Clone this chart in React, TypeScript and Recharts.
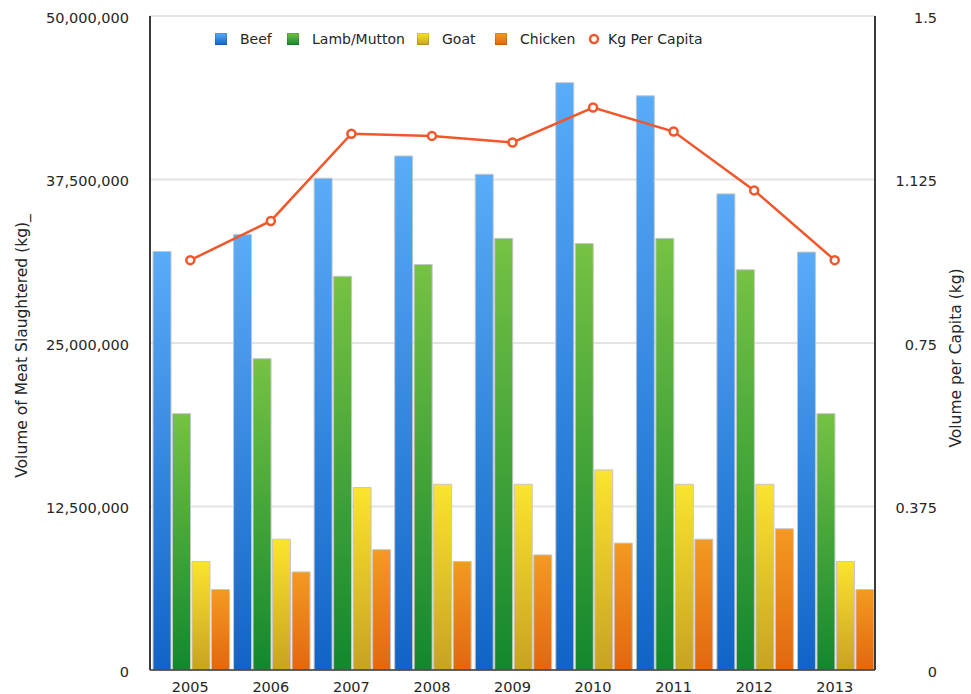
import React from 'react';
import { ComposedChart, Bar, Line, XAxis, YAxis, CartesianGrid, Legend } from 'recharts';

// Slaughter volumes (kg) by year and meat type, plus per-capita consumption (kg)
const years = ['2005', '2006', '2007', '2008', '2009', '2010', '2011', '2012', '2013'];
const beefKg = [32000000, 33300000, 37600000, 39300000, 37900000, 44900000, 43900000, 36400000, 31950000];
const lambMuttonKg = [19600000, 23800000, 30100000, 31000000, 33000000, 32600000, 33000000, 30600000, 19600000];
const goatKg = [8300000, 10000000, 13950000, 14200000, 14200000, 15300000, 14200000, 14200000, 8300000];
const chickenKg = [6150000, 7500000, 9200000, 8300000, 8800000, 9700000, 10000000, 10800000, 6150000];
const kgPerCapita = [0.94, 1.03, 1.23, 1.225, 1.21, 1.29, 1.235, 1.1, 0.94];

const volumeTicks = [0, 12500000, 25000000, 37500000, 50000000];
const perCapitaTicks = [0, 0.375, 0.75, 1.125, 1.5];

const data = years.map((year, i) => ({
  year,
  beef: beefKg[i],
  lamb: lambMuttonKg[i],
  goat: goatKg[i],
  chicken: chickenKg[i],
  perCapita: kgPerCapita[i],
}));

const FONT = '"DejaVu Sans", "Lucida Grande", sans-serif';
const TEXT = '#262626';
const AXIS = '#3a3a3a';
const LINE = '#f1572a';

const barSeries = [
  { key: 'beef', name: 'Beef', id: 'grad-beef', top: '#59acf8', bottom: '#1164c6' },
  { key: 'lamb', name: 'Lamb/Mutton', id: 'grad-lamb', top: '#76c244', bottom: '#13872e' },
  { key: 'goat', name: 'Goat', id: 'grad-goat', top: '#fbe42e', bottom: '#c8a222' },
  { key: 'chicken', name: 'Chicken', id: 'grad-chicken', top: '#f39a22', bottom: '#e2670f' },
];

const legendLefts = [215, 287, 417, 495];

function LegendContent() {
  return (
    <div style={{ position: 'relative', width: 971, height: 20, fontFamily: FONT, fontSize: 14, color: TEXT }}>
      {barSeries.map((s, i) => (
        <div
          key={s.key}
          style={{ position: 'absolute', left: legendLefts[i], top: 0, height: 20, display: 'flex', alignItems: 'center', whiteSpace: 'nowrap' }}
        >
          <span
            style={{
              display: 'inline-block',
              width: 12,
              height: 12,
              background: `linear-gradient(${s.top}, ${s.bottom})`,
              boxShadow: 'inset 0 0 0 1px rgba(0,0,0,0.12)',
            }}
          />
          <span style={{ marginLeft: 13 }}>{s.name}</span>
        </div>
      ))}
      <div style={{ position: 'absolute', left: 588, top: 0, height: 20, display: 'flex', alignItems: 'center', whiteSpace: 'nowrap' }}>
        <svg width={12} height={12}>
          <circle cx={6} cy={6} r={4} fill="#fff" stroke={LINE} strokeWidth={2.5} />
        </svg>
        <span style={{ marginLeft: 8 }}>Kg Per Capita</span>
      </div>
    </div>
  );
}

const formatVolume = (v: number) => v.toLocaleString('en-US');

function VolumeTick(props: any) {
  const { y, payload } = props;
  return (
    <text x={129} y={y} dy={6.5} textAnchor="end" fontFamily={FONT} fontSize={14.5} fill={TEXT}>
      {formatVolume(payload.value)}
    </text>
  );
}

function PerCapitaTick(props: any) {
  const { y, payload } = props;
  return (
    <text x={937} y={y} dy={6.5} textAnchor="end" fontFamily={FONT} fontSize={14.5} fill={TEXT}>
      {String(payload.value)}
    </text>
  );
}

function YearTick(props: any) {
  const { x, payload } = props;
  return (
    <text x={x} y={692} textAnchor="middle" fontFamily={FONT} fontSize={14.5} fill={TEXT}>
      {payload.value}
    </text>
  );
}

const leftTitle = () => (
  <text
    x={22}
    y={346}
    transform="rotate(-90 22 346)"
    textAnchor="middle"
    dominantBaseline="central"
    fontFamily={FONT}
    fontSize={15.5}
    fill={TEXT}
  >
    Volume of Meat Slaughtered (kg)_
  </text>
);

const rightTitle = () => (
  <text
    x={956}
    y={358}
    transform="rotate(-90 956 358)"
    textAnchor="middle"
    dominantBaseline="central"
    fontFamily={FONT}
    fontSize={15.5}
    fill={TEXT}
  >
    Volume per Capita (kg)
  </text>
);

export default function App() {
  return (
    <div style={{ position: 'absolute', left: 0, top: 0, width: 971, height: 694, background: '#fff' }}>
      <ComposedChart
        width={971}
        height={694}
        data={data}
        margin={{ top: 16, right: 0, bottom: 0, left: 0 }}
        barCategoryGap={3}
        barGap={1.5}
      >
        <defs>
          {barSeries.map((s) => (
            <linearGradient key={s.id} id={s.id} x1="0" y1="0" x2="0" y2="1">
              <stop offset="0%" stopColor={s.top} />
              <stop offset="100%" stopColor={s.bottom} />
            </linearGradient>
          ))}
        </defs>
        <CartesianGrid yAxisId="left" vertical={false} stroke="#e4e4e4" strokeWidth={2} />
        <XAxis
          dataKey="year"
          height={24}
          tickLine={false}
          axisLine={{ stroke: AXIS, strokeWidth: 1.5 }}
          tick={<YearTick />}
          interval={0}
        />
        <YAxis
          yAxisId="left"
          orientation="left"
          width={150}
          domain={[0, 50000000]}
          ticks={volumeTicks}
          tickLine={false}
          axisLine={{ stroke: AXIS, strokeWidth: 2 }}
          tick={<VolumeTick />}
          label={leftTitle}
        />
        <YAxis
          yAxisId="right"
          orientation="right"
          width={96}
          domain={[0, 1.5]}
          ticks={perCapitaTicks}
          tickLine={false}
          axisLine={{ stroke: AXIS, strokeWidth: 2 }}
          tick={<PerCapitaTick />}
          label={rightTitle}
        />
        <Legend
          verticalAlign="middle"
          align="center"
          layout="horizontal"
          wrapperStyle={{ top: 29, left: 0, width: 971, height: 20 }}
          content={<LegendContent />}
        />
        {barSeries.map((s) => (
          <Bar
            key={s.key}
            yAxisId="left"
            dataKey={s.key}
            name={s.name}
            fill={`url(#${s.id})`}
            stroke="#c6c6c6"
            strokeWidth={1}
            isAnimationActive={false}
          />
        ))}
        <Line
          yAxisId="right"
          type="linear"
          dataKey="perCapita"
          name="Kg Per Capita"
          stroke={LINE}
          strokeWidth={2.5}
          dot={{ r: 4, fill: '#fff', stroke: LINE, strokeWidth: 2.5 }}
          activeDot={false}
          isAnimationActive={false}
        />
      </ComposedChart>
    </div>
  );
}
